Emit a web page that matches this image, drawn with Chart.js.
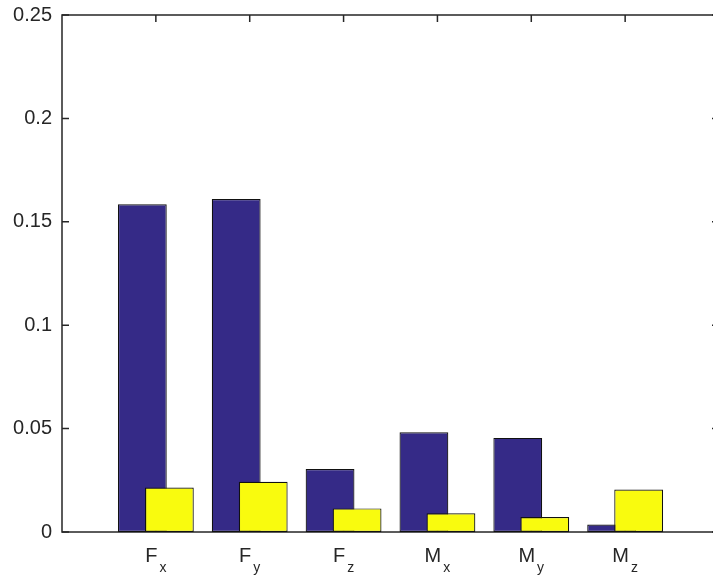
<!DOCTYPE html>
<html>
<head>
<meta charset="utf-8">
<script src="https://cdn.jsdelivr.net/npm/chart.js@4.4.1/dist/chart.umd.min.js"></script>
<style>
  html, body { margin: 0; padding: 0; background: #fff; overflow: hidden; }
  #wrap { position: absolute; left: 0; top: 0; width: 730px; height: 575px; }
</style>
</head>
<body>
<div id="wrap"><canvas id="chart" width="730" height="575"></canvas></div>
<script>
// --- data ---
const catIdx = [1, 2, 3, 4, 5, 6];
const catMain = ['F', 'F', 'F', 'M', 'M', 'M'];
const catSub = ['x', 'y', 'z', 'x', 'y', 'z'];
const seriesBlue = [0.1585, 0.161, 0.0305, 0.0482, 0.0455, 0.0036];
const seriesYellow = [0.0215, 0.0243, 0.0114, 0.0091, 0.0072, 0.0205];
const yTickVals = [0, 0.05, 0.1, 0.15, 0.2, 0.25];
const yTickLabels = ['0', '0.05', '0.1', '0.15', '0.2', '0.25'];

// --- look ---
const axisColor = '#262626';
const barShift = 0.144;   // overlap shift of each series, in category units
const tickLen = 7;
const fontFam = '"Liberation Sans", Arial, Helvetica, sans-serif';

const toPoints = vals => catIdx.map((x, i) => ({ x: x, y: vals[i] }));
const fixTicks = vals => s => { s.ticks = vals.map(v => ({ value: v })); };

const hiddenX = (min, max) => ({
    type: 'linear', display: false, offset: false, min: min, max: max,
    afterBuildTicks: fixTicks(catIdx)
});

// box, inward ticks and subscripted category labels (MATLAB style)
const matlabAxes = {
    id: 'matlabAxes',
    beforeDatasetsDraw(chart) {
        const { ctx, chartArea: a, scales } = chart;
        ctx.save();
        ctx.strokeStyle = axisColor;
        ctx.lineWidth = 1.5;
        ctx.strokeRect(a.left, a.top, a.right - a.left, a.bottom - a.top);
        ctx.beginPath();
        yTickVals.forEach(v => {
            const py = scales.y.getPixelForValue(v);
            ctx.moveTo(a.left, py); ctx.lineTo(a.left + tickLen, py);
            ctx.moveTo(a.right, py); ctx.lineTo(a.right - tickLen, py);
        });
        catIdx.forEach(v => {
            const px = scales.xCat.getPixelForValue(v);
            ctx.moveTo(px, a.top); ctx.lineTo(px, a.top + tickLen);
            ctx.moveTo(px, a.bottom); ctx.lineTo(px, a.bottom - tickLen);
        });
        ctx.stroke();
        ctx.restore();
    },
    afterDraw(chart) {
        const { ctx, chartArea: a, scales } = chart;
        ctx.save();
        ctx.fillStyle = axisColor;
        ctx.textBaseline = 'alphabetic';
        ctx.textAlign = 'left';
        catIdx.forEach((v, i) => {
            const px = scales.xCat.getPixelForValue(v);
            ctx.font = '20px ' + fontFam;
            const mw = ctx.measureText(catMain[i]).width;
            ctx.font = '14px ' + fontFam;
            const sw = ctx.measureText(catSub[i]).width;
            const x0 = px - (mw + 2 + sw) / 2;
            ctx.font = '20px ' + fontFam;
            ctx.fillText(catMain[i], x0, a.bottom + 30);
            ctx.font = '14px ' + fontFam;
            ctx.fillText(catSub[i], x0 + mw + 2, a.bottom + 40);
        });
        ctx.restore();
    }
};

new Chart(document.getElementById('chart'), {
    type: 'bar',
    data: {
        datasets: [
            {
                label: 'series 1',
                data: toPoints(seriesBlue),
                xAxisID: 'xBlue',
                backgroundColor: '#352a87',
                borderColor: '#111',
                borderWidth: 1.2,
                borderSkipped: false,
                order: 1
            },
            {
                label: 'series 2',
                data: toPoints(seriesYellow),
                xAxisID: 'xYellow',
                backgroundColor: '#f9fb0e',
                borderColor: '#111',
                borderWidth: 1.2,
                borderSkipped: false,
                order: 0
            }
        ]
    },
    plugins: [matlabAxes],
    options: {
        responsive: false,
        animation: false,
        devicePixelRatio: 1,
        grouped: false,
        categoryPercentage: 1,
        barPercentage: 0.52,
        layout: { padding: { left: 0, top: 15, right: 11, bottom: 43 } },
        plugins: { legend: { display: false }, tooltip: { enabled: false } },
        scales: {
            xBlue: hiddenX(barShift, 7 + barShift),
            xYellow: hiddenX(-barShift, 7 - barShift),
            xCat: hiddenX(0, 7),
            y: {
                min: 0, max: 0.25,
                afterBuildTicks: fixTicks(yTickVals),
                afterFit: s => { s.width = 62; s.paddingTop = 0; s.paddingBottom = 0; },
                grid: { display: false, drawTicks: false },
                border: { display: false },
                ticks: {
                    padding: 10,
                    color: axisColor,
                    font: { family: fontFam, size: 20 },
                    callback: (v, i) => yTickLabels[i]
                }
            }
        }
    }
});
</script>
</body>
</html>
